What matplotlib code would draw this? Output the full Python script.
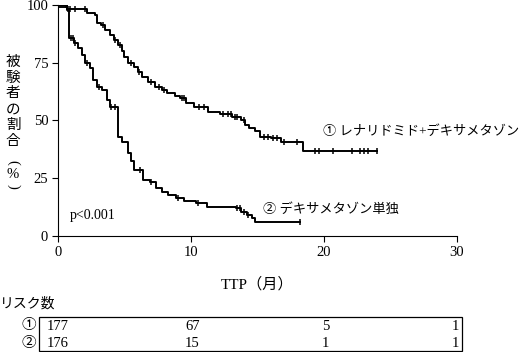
import numpy as np
import matplotlib
matplotlib.use("Agg")
import matplotlib.pyplot as plt
import matplotlib.transforms as mtransforms
from matplotlib.patches import Rectangle

FONTS = ["Liberation Serif", "Noto Sans CJK JP", "DejaVu Sans"]
plt.rcParams["font.family"] = FONTS

# ① レナリドミド+デキサメタゾン
t1 = [0, 0.7, 2.2, 2.8, 2.95, 3.2, 3.5, 3.9, 4.2, 4.5, 4.8, 5.0, 5.3, 5.7, 6.0,
      6.3, 6.8, 7.3, 7.8, 8.2, 8.8, 9.2, 9.6, 10.2, 11.3, 12.2, 13.1, 13.8,
      14.1, 14.4, 14.8, 15.2, 16.0, 16.8, 18.4, 24.0]
s1 = [100, 98.1, 96.7, 95.7, 92.2, 91.3, 89.0, 87.0, 85.0, 82.7, 80.0, 77.5,
      75.0, 73.0, 71.0, 69.0, 66.5, 64.5, 63.0, 61.8, 60.5, 59.6, 57.4, 56.0,
      53.8, 52.8, 51.6, 50.2, 48.0, 46.6, 45.2, 42.7, 42.2, 40.8, 36.8, 36.8]
c1 = [0.1, 0.25, 0.4, 0.55, 0.75, 0.9, 1.3, 2.0, 3.4, 4.3, 4.7, 5.5, 6.1, 7.0,
      7.6, 8.0, 9.3, 9.5, 10.6, 11.0, 12.4, 12.8, 13.0, 13.3, 13.5, 14.0,
      15.5, 15.8, 16.2, 16.5, 17.0, 18.0, 19.3, 19.6, 20.7, 22.1, 22.7, 23.0,
      23.3, 24.0]

# ② デキサメタゾン単独
t2 = [0, 0.65, 0.83, 1.2, 1.5, 1.8, 2.0, 2.4, 2.65, 2.9, 3.3, 3.65, 3.9, 4.5,
      4.8, 5.3, 5.5, 5.7, 6.4, 6.9, 7.4, 7.8, 8.3, 8.9, 9.5, 10.4, 11.2, 13.4,
      13.8, 14.2, 14.6, 14.8, 18.2]
s2 = [100, 97.8, 85.6, 83.5, 81.2, 78.4, 74.8, 72.6, 67.5, 64.6, 63.2, 58.9,
      56.0, 43.0, 40.8, 35.8, 32.2, 28.6, 24.2, 23.2, 20.6, 19.2, 17.5, 16.3,
      14.9, 14.1, 12.7, 12.0, 10.5, 9.1, 7.7, 5.9, 5.9]
c2 = [0.1, 0.2, 0.35, 0.5, 0.6, 1.0, 1.1, 1.3, 2.2, 3.1, 4.0, 4.3, 6.2, 7.0,
      9.0, 10.5, 13.5, 13.7, 14.0, 14.3, 18.2]

risk_times = [0, 10, 20, 30]
risk1 = [177, 67, 5, 1]
risk2 = [176, 15, 1, 1]

ylabel_chars = ["被", "験", "者", "の", "割", "合", "(", "%", ")"]


def surv_at(t, s, x):
    i = np.searchsorted(t, x, side="right") - 1
    return np.asarray(s)[i]


fig = plt.figure(figsize=(5.27, 3.52), dpi=100)
ax = fig.add_axes([0.110, 0.330, 0.757, 0.656])

for t, s, c in [(t1, s1, c1), (t2, s2, c2)]:
    ax.step(t, s, where="post", color="black", lw=1.4)
    ax.plot(c, surv_at(t, s, c), linestyle="none", marker="|",
            color="black", ms=4.5, mew=1.1)

ax.set_xlim(0, 30)
ax.set_ylim(0, 100)
ax.set_xticks([0, 10, 20, 30])
ax.set_yticks([0, 25, 50, 75, 100])
ax.tick_params(direction="out", length=4, width=0.8, labelsize=10.5, pad=3)
for side in ["top", "right"]:
    ax.spines[side].set_visible(False)
for side in ["left", "bottom"]:
    ax.spines[side].set_linewidth(0.8)

ax.set_xlabel("TTP（月）", fontsize=11, labelpad=13)

ax.text(19.9, 45.0, "① レナリドミド+デキサメタゾン", fontsize=9.5,
        va="center", ha="left")
ax.text(15.4, 11.5, "② デキサメタゾン単独", fontsize=9.5, va="center",
        ha="left")
ax.text(0.9, 8.7, "p<0.001", fontsize=10, va="center", ha="left")

# vertical y label, one character per line
ylab_px = [62, 78, 94, 110, 125.5, 141, 162, 174, 186]
for ch, py in zip(ylabel_chars, ylab_px):
    rot = -90 if ch in "()" else 0
    fig.text(13 / 527, 1 - py / 352, ch, fontsize=10.5, ha="center",
             va="center", rotation=rot)

# risk table
fig.text(0.0, 1 - 304 / 352, "リスク数", fontsize=10, ha="left",
         va="center")
fig.patches.append(Rectangle((39 / 527, 1 - 351 / 352), 423 / 527,
                             34 / 352, transform=fig.transFigure,
                             fill=False, edgecolor="black", lw=0.9))
trans = mtransforms.blended_transform_factory(ax.transData, fig.transFigure)
for row, (label, counts) in enumerate([("①", risk1), ("②", risk2)]):
    y = 1 - (326 + row * 17.5) / 352
    fig.text(29 / 527, y, label, fontsize=10.5, ha="center", va="center")
    for j, (x, n) in enumerate(zip(risk_times, counts)):
        if j == 0:
            ax.text(-0.85, y, str(n), transform=trans, fontsize=10.5,
                    ha="left", va="center")
        elif j == len(counts) - 1:
            ax.text(30.2, y, str(n), transform=trans, fontsize=10.5,
                    ha="right", va="center")
        else:
            ax.text(x + 0.1, y, str(n), transform=trans, fontsize=10.5,
                    ha="center", va="center")

fig.savefig("out.png", dpi=100)
